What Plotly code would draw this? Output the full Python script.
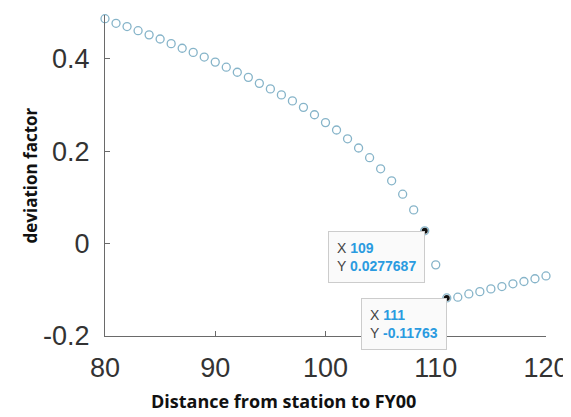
import plotly.graph_objects as go

distance = list(range(80, 121))
deviation = [0.487, 0.477, 0.470, 0.461, 0.452, 0.443, 0.433, 0.423, 0.414, 0.404,
             0.393, 0.382, 0.371, 0.360, 0.347, 0.335, 0.322, 0.309, 0.295, 0.279,
             0.262, 0.246, 0.227, 0.207, 0.186, 0.162, 0.136, 0.107, 0.073, 0.0277687,
             -0.046, -0.11763, -0.116, -0.109, -0.104, -0.098, -0.093, -0.087, -0.082,
             -0.076, -0.070]
tip_x = [109, 111]
tip_y = [0.0277687, -0.11763]
x_ticks = [80, 90, 100, 110, 120]
y_ticks = [-0.2, 0, 0.2, 0.4]
y_tick_text = ["-0.2", "0", "0.2", "0.4"]

fig = go.Figure()
fig.add_trace(go.Scatter(
    x=distance, y=deviation, mode="markers",
    marker=dict(symbol="circle-open", size=8, color="#86b4c9", line=dict(width=1.3, color="#86b4c9")),
    cliponaxis=False, hoverinfo="skip", showlegend=False))
fig.add_trace(go.Scatter(
    x=tip_x, y=tip_y, mode="markers",
    marker=dict(symbol="circle", size=6, color="#111111"),
    cliponaxis=False, hoverinfo="skip", showlegend=False))

axis_common = dict(showline=True, linecolor="#6a6a6a", linewidth=1, ticks="inside",
                   ticklen=5, tickcolor="#6a6a6a", showgrid=False, zeroline=False,
                   tickfont=dict(family="Liberation Sans", size=27, color="#333333"),
                   mirror=False, automargin=False)
fig.update_xaxes(range=[80, 120], tickvals=x_ticks, ticktext=[str(v) for v in x_ticks],
                 ticklabelstandoff=8, **axis_common)
fig.update_yaxes(range=[-0.2, 0.495], tickvals=y_ticks, ticktext=y_tick_text,
                 ticklabelstandoff=9, **axis_common)

annotations = []
for xv, yv in zip(tip_x, tip_y):
    annotations.append(dict(
        x=xv, y=yv, xref="x", yref="y", xanchor="right", yanchor="top", showarrow=False,
        align="left", bgcolor="#fafafa", bordercolor="#cccccc", borderwidth=1, borderpad=8,
        font=dict(family="Liberation Sans", size=14, color="#444444"),
        text=f"X <b><span style='color:#2a9be0'>{xv}</span></b><br>Y <b><span style='color:#2a9be0'>{yv:g}</span></b>"))
annotations.append(dict(
    x=0.404, y=0, xref="paper", yref="paper", yanchor="middle", xanchor="center",
    yshift=-65, showarrow=False, text="<b>Distance from station to FY00</b>",
    font=dict(family="Open Sans", size=18, color="#111111")))
annotations.append(dict(
    x=0, y=0.5, xref="paper", yref="paper", xanchor="center", yanchor="middle",
    xshift=-75, showarrow=False, textangle=-90, text="<b>deviation factor</b>",
    font=dict(family="Open Sans", size=17, color="#111111")))

fig.update_layout(
    width=563, height=409, margin=dict(l=97, r=25, t=7, b=81),
    plot_bgcolor="white", paper_bgcolor="white", annotations=annotations)

fig.write_html("out.html")
